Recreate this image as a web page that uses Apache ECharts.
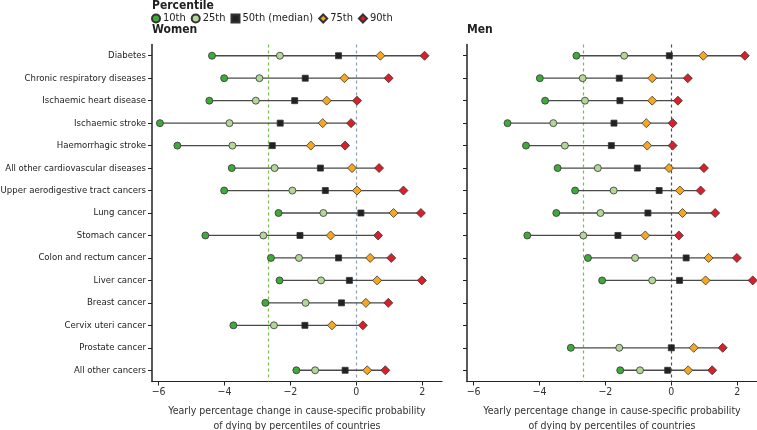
<!DOCTYPE html>
<html><head><meta charset="utf-8">
<script src="https://cdn.jsdelivr.net/npm/echarts@6/dist/echarts.min.js"></script>
<style>html,body{margin:0;padding:0;background:#fff}#c{width:757px;height:430px}</style>
</head><body><div id="c"></div>
<script>
const categories = ['Diabetes','Chronic respiratory diseases','Ischaemic heart disease','Ischaemic stroke','Haemorrhagic stroke','All other cardiovascular diseases','Upper aerodigestive tract cancers','Lung cancer','Stomach cancer','Colon and rectum cancer','Liver cancer','Breast cancer','Cervix uteri cancer','Prostate cancer','All other cancers'];

const women10 = [-4.38,-4.01,-4.46,-5.96,-5.43,-3.78,-4.01,-2.36,-4.58,-2.59,-2.33,-2.76,-3.73,null,-1.82];
const women25 = [-2.32,-2.94,-3.05,-3.85,-3.76,-2.48,-1.94,-1.00,-2.82,-1.74,-1.07,-1.54,-2.50,null,-1.25];
const women50 = [-0.54,-1.55,-1.87,-2.31,-2.55,-1.09,-0.94,0.14,-1.71,-0.54,-0.21,-0.45,-1.56,null,-0.34];
const women75 = [0.73,-0.36,-0.90,-1.02,-1.38,-0.13,0.02,1.13,-0.78,0.42,0.63,0.29,-0.74,null,0.33];
const women90 = [2.07,0.98,0.02,-0.16,-0.34,0.69,1.43,1.96,0.66,1.06,1.99,0.97,0.20,null,0.88];

const men10 = [-2.88,-3.99,-3.83,-4.97,-4.41,-3.45,-2.92,-3.49,-4.37,-2.53,-2.10,null,null,-3.05,-1.55];
const men25 = [-1.43,-2.69,-2.62,-3.58,-3.23,-2.23,-1.75,-2.15,-2.67,-1.10,-0.58,null,null,-1.58,-0.95];
const men50 = [-0.06,-1.58,-1.56,-1.74,-1.82,-1.03,-0.37,-0.71,-1.62,0.45,0.25,null,null,0.00,-0.11];
const men75 = [0.97,-0.58,-0.58,-0.76,-0.73,-0.07,0.26,0.34,-0.79,1.13,1.04,null,null,0.68,0.51];
const men90 = [2.23,0.50,0.20,0.04,0.04,0.99,0.89,1.33,0.23,1.99,2.47,null,null,1.56,1.24];

const xTicks = [-6,-4,-2,0,2];
const refLines = [-2.67, 0];
const seriesNames = ['10th','25th','50th (median)','75th','90th'];

const FONT = '"DejaVu Sans Condensed","DejaVu Sans",sans-serif';
const colors = ['#3faa3a','#b3d699','#222222','#f5a623','#d7202a'];
const symbols = ['circle','circle','rect','diamond','diamond'];
const sizes = [7,7,6,9,9];

function scatter(name, k, vals, idx, zeroColor) {
  const s = {
    type:'scatter', name:name, xAxisIndex:idx, yAxisIndex:idx, z:3,
    symbol:symbols[k], symbolSize:sizes[k], clip:false,
    itemStyle:{color:colors[k], borderColor:'#333', borderWidth:0.8, opacity:1},
    data: vals.map((v,i)=> v==null ? null : [v,i]).filter(d=>d)
  };
  if (k === 0) {
    s.markLine = {
      silent:true, symbol:'none', label:{show:false}, z:1,
      data:[
        {xAxis:refLines[0], lineStyle:{color:'#77c04f', type:[3,3], width:1.2}},
        {xAxis:refLines[1], lineStyle:{color:zeroColor, type:[3,3], width:1.2}}
      ]
    };
  }
  return s;
}
function segs(lo, hi, idx) {
  return {
    type:'custom', xAxisIndex:idx, yAxisIndex:idx, silent:true, z:2,
    renderItem:(params, api)=>{
      const a = api.coord([api.value(0), api.value(1)]);
      const b = api.coord([api.value(2), api.value(1)]);
      return {type:'line', shape:{x1:a[0],y1:a[1],x2:b[0],y2:b[1]}, style:{stroke:'#4a4a4a', lineWidth:1.3}};
    },
    data: lo.map((v,i)=> v==null ? null : [v, i, hi[i]]).filter(d=>d)
  };
}

const axisName = 'Yearly percentage change in cause-specific probability\nof dying by percentiles of countries';
function xAxis(idx){
  return {
    type:'value', gridIndex:idx, min:-6.2, max:2.6,
    splitLine:{show:false},
    axisLine:{show:true, onZero:false, lineStyle:{color:'#222', width:1.2}},
    axisTick:{show:true, length:4, lineStyle:{color:'#222'}, customValues:xTicks},
    axisLabel:{color:'#333', fontSize:10.5, fontFamily:FONT, margin:5, customValues:xTicks,
      formatter:v=> (v<0 ? '\u2212'+Math.abs(v) : String(v))},
    name:axisName, nameLocation:'middle', nameGap:22,
    nameTextStyle:{color:'#333', fontSize:10.5, fontFamily:FONT, lineHeight:15, verticalAlign:'top'}
  };
}
function yAxis(idx, showLabels){
  return {
    type:'category', gridIndex:idx, data:categories, inverse:true,
    axisLine:{show:true, onZero:false, lineStyle:{color:'#222', width:1.5}},
    axisTick:{show:true, alignWithLabel:true, length:4, lineStyle:{color:'#222'}},
    axisLabel:{show:showLabels, color:'#222', fontSize:9.5, fontFamily:FONT, margin:6},
    splitLine:{show:false}
  };
}

const series = [segs(women10, women90, 0), segs(men10, men90, 1)];
const wv = [women10,women25,women50,women75,women90];
const mv = [men10,men25,men50,men75,men90];
seriesNames.forEach((n,k)=>{ series.push(scatter(n,k,wv[k],0,'#8aa2b2')); });
seriesNames.forEach((n,k)=>{ series.push(scatter(n,k,mv[k],1,'#3b5566')); });

const chart = echarts.init(document.getElementById('c'), null, {renderer:'canvas'});
chart.setOption({
  animation:false,
  textStyle:{fontFamily:FONT},
  title:[
    {text:'Percentile', left:152, top:0, padding:0, textStyle:{fontSize:12, fontWeight:'bold', color:'#222', fontFamily:FONT}},
    {text:'Women', left:152, top:24, padding:0, textStyle:{fontSize:12, fontWeight:'bold', color:'#222', fontFamily:FONT}},
    {text:'Men', left:467, top:24, padding:0, textStyle:{fontSize:12, fontWeight:'bold', color:'#222', fontFamily:FONT}}
  ],
  legend:{
    left:151, top:13, padding:0, itemWidth:8, itemHeight:8, itemGap:5,
    textStyle:{fontSize:11, color:'#222', fontFamily:FONT, padding:[0,0,0,-2]},
    data: seriesNames.map((n,k)=>({name:n, icon:symbols[k]})),
    selectedMode:false
  },
  grid:[
    {left:152, top:44.5, width:290, height:337, containLabel:false, outerBoundsMode:'none'},
    {left:467, top:44.5, width:290, height:337, containLabel:false, outerBoundsMode:'none'}
  ],
  xAxis:[xAxis(0), xAxis(1)],
  yAxis:[yAxis(0,true), yAxis(1,false)],
  series: series
});
</script></body></html>
